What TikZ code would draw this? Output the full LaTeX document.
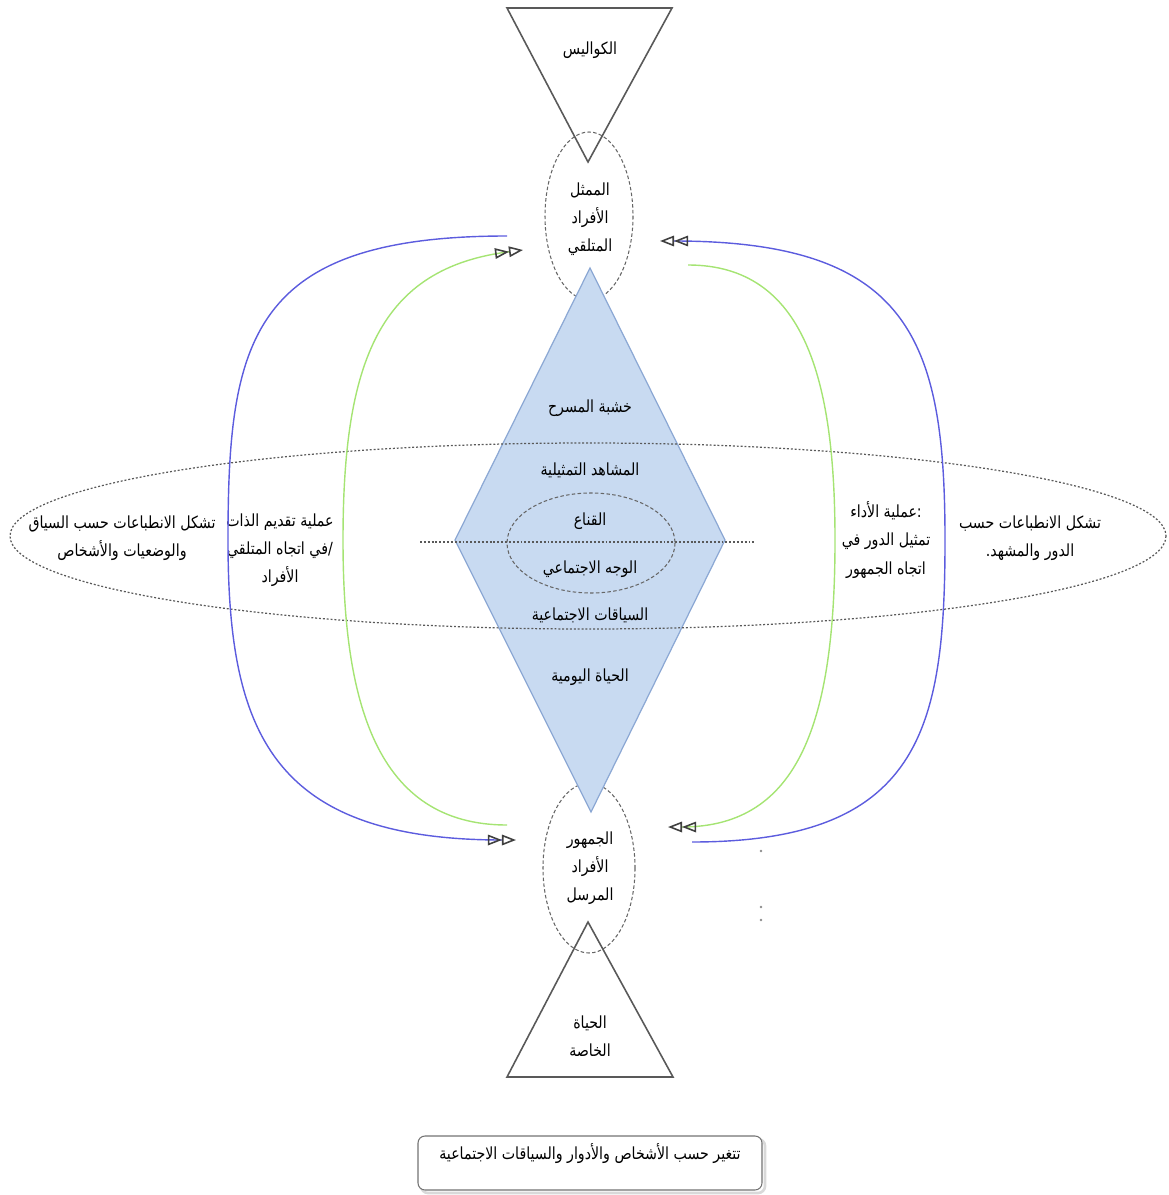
\documentclass[tikz,border=0pt]{standalone}
\usepackage{fontspec}
\usetikzlibrary{arrows.meta}
\newfontfamily\arabicfont[Script=Arabic,FakeStretch=0.85]{DejaVu Sans}
\TeXXeTstate=1
\newcommand{\arl}[1]{\beginR#1\endR}

\definecolor{curveblue}{RGB}{92,92,222}
\definecolor{curvegreen}{RGB}{165,228,115}
\definecolor{stagefill}{RGB}{200,218,241}
\definecolor{stageline}{RGB}{140,168,212}

\tikzset{
	lbl/.style={font=\arabicfont\fontsize{9.5}{16}\selectfont,align=center,inner sep=0pt},
	dashline/.style={black!60,dash pattern=on 2pt off 1.3pt,line width=0.6pt},
	dotline/.style={black!65,dash pattern=on 1.1pt off 1.1pt,line width=0.7pt},
	flowblue/.style={curveblue,line width=0.8pt},
	flowgreen/.style={curvegreen,line width=0.8pt},
	dtip/.style={-{Triangle[open,length=8pt,width=6pt,line width=0.9pt,color=black!75]Triangle[open,length=8pt,width=6pt,line width=0.9pt,color=black!75]}}
}

\begin{document}
\begin{tikzpicture}[x=0.02cm,y=-0.02cm]
	\useasboundingbox (0,0) rectangle (1168,1195);
	
	% backstage and private life
	\draw[black!65,line width=0.9pt] (507,8) -- (672,8) -- (588,162) -- cycle;
	\node[lbl] (backstage) at (590,50) {\arl{الكواليس}};
	
	\draw[black!65,line width=0.9pt] (588,922) -- (673,1077) -- (507,1077) -- cycle;
	\node[lbl] (private) at (590,1036) {\arl{الحياة}\\\arl{الخاصة}};
	
	% actor / audience
	\draw[dashline] (589,216) ellipse (44 and 84);
	\draw[dashline] (589,868) ellipse (46 and 85);
	
	% stage
	\draw[stageline,fill=stagefill,line width=0.7pt] (590,268) -- (725,540) -- (591,812) -- (455,540) -- cycle;
	
	\draw[dotline] (588,536) ellipse (578 and 93);
	\draw[dotline] (420,542) -- (755,542);
	\draw[dashline] (591,543) ellipse (84 and 50);
	
	\node[lbl] (actor) at (590,219) {\arl{الممثل}\\\arl{الأفراد}\\\arl{المتلقي}};
	\node[lbl] (audience) at (590,868) {\arl{الجمهور}\\\arl{الأفراد}\\\arl{المرسل}};
	
	\node[lbl] (stage) at (590,408) {\arl{خشبة المسرح}};
	\node[lbl] (scenes) at (590,470) {\arl{المشاهد التمثيلية}};
	\node[lbl] (mask) at (590,521) {\arl{القناع}};
	\node[lbl] (face) at (590,569) {\arl{الوجه الاجتماعي}};
	\node[lbl] (contexts) at (590,615) {\arl{السياقات الاجتماعية}};
	\node[lbl] (daily) at (590,677) {\arl{الحياة اليومية}};
	
	\node[lbl] (leftout) at (122,538) {\arl{تشكل الانطباعات حسب السياق}\\\arl{والوضعيات والأشخاص}};
	\node[lbl] (leftin) at (280,550) {\arl{عملية تقديم الذات}\\\arl{في اتجاه المتلقي}/\\\arl{الأفراد}};
	\node[lbl] (rightin) at (886,540) {\arl{عملية الأداء}:\\\arl{تمثيل الدور في}\\\arl{اتجاه الجمهور}};
	\node[lbl] (rightout) at (1030,538) {\arl{تشكل الانطباعات حسب}\\\arl{الدور والمشهد.}};
	
	% flows
	\coordinate (bl1) at (507,236);
	\coordinate (bl2) at (516,840);
	\coordinate (gl1) at (507,825);
	\coordinate (gl2) at (523,250);
	\coordinate (br1) at (692,842);
	\coordinate (br2) at (660,241);
	\coordinate (gr1) at (688,265);
	\coordinate (gr2) at (668,827);
	
	\draw[flowblue,dtip] (bl1) .. controls (250,236) and (228,340) .. (228,540)
		.. controls (228,730) and (270,840) .. (bl2);
	\draw[flowgreen,dtip] (gl1) .. controls (375,825) and (343,700) .. (343,540)
		.. controls (343,360) and (380,268) .. (gl2);
	\draw[flowblue,dtip] (br1) .. controls (920,842) and (945,730) .. (945,540)
		.. controls (945,340) and (910,241) .. (br2);
	\draw[flowgreen,dtip] (gr1) .. controls (805,265) and (835,380) .. (835,540)
		.. controls (835,720) and (800,827) .. (gr2);
	
	\fill[black!45] (761,851) circle (1.3) (761,907) circle (1.3) (761,920) circle (1.3);
	
	% note
	\draw[black!15,line width=1.5pt,rounded corners=4pt] (421,1139) rectangle (765,1193);
	\draw[black!55,fill=white,line width=0.6pt,rounded corners=4pt] (418,1136) rectangle (762,1190);
	\node[lbl] (note) at (590,1154) {\arl{تتغير حسب الأشخاص والأدوار والسياقات الاجتماعية}};
\end{tikzpicture}
\end{document}
